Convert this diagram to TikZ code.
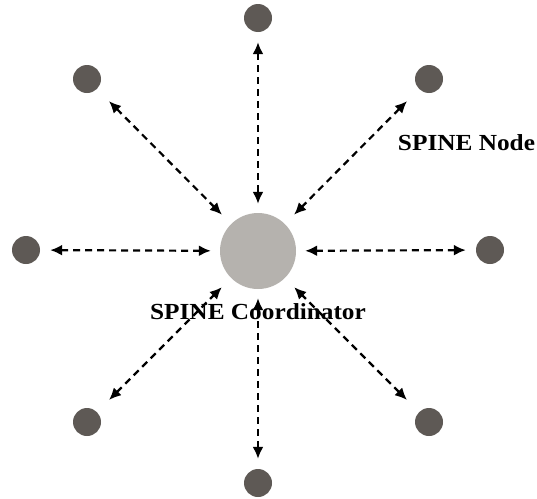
\documentclass[tikz,border=0pt]{standalone}
\usepackage{fontspec}
\setmainfont{Liberation Serif}
\usetikzlibrary{arrows.meta}
\definecolor{hubgray}{HTML}{B5B2AE}
\definecolor{leafgray}{HTML}{5E5955}
\tikzset{
  hub/.style={circle, fill=hubgray, minimum size=76pt, inner sep=0pt},
  leaf/.style={circle, fill=leafgray, minimum size=28pt, inner sep=0pt},
  link/.style={{Latex[length=12pt,width=11pt]}-{Latex[length=12pt,width=11pt]},
    line width=2.2pt, dash pattern=on 7pt off 5pt},
  axial/.style={link, shorten <=10pt, shorten >=9pt},
  diag/.style={link, shorten <=17pt, shorten >=13pt},
  caption/.style={font=\fontsize{23}{26}\selectfont\bfseries, inner sep=0pt}
}
\begin{document}
\begin{tikzpicture}[x=1pt,y=-1pt]
\useasboundingbox (0,0) rectangle (537,498);
% coordinator in the middle
\node[hub] (c) at (258,251) {};
% surrounding nodes
\node[leaf] (t)  at (258,18)  {};
\node[leaf] (tl) at (87,79)   {};
\node[leaf] (tr) at (429,79)  {};
\node[leaf] (l)  at (26,250)  {};
\node[leaf] (r)  at (490,250) {};
\node[leaf] (bl) at (87,422)  {};
\node[leaf] (br) at (429,422) {};
\node[leaf] (b)  at (258,483) {};
% two-way links
\draw[axial] (t) -- (c);
\draw[axial] (l) -- (c);
\draw[axial] (r) -- (c);
\draw[axial] (b) -- (c);
\draw[diag] (tl) -- (c);
\draw[diag] (tr) -- (c);
\draw[diag] (bl) -- (c);
\draw[diag] (br) -- (c);
% labels
\node[caption, anchor=base] (lnode) at (466.5,150) {\scalebox{1.1}[1]{SPINE Node}};
\node[caption, anchor=base] (lcoord) at (258,319) {\scalebox{1.1}[1]{SPINE Coordinator}};
\end{tikzpicture}
\end{document}
